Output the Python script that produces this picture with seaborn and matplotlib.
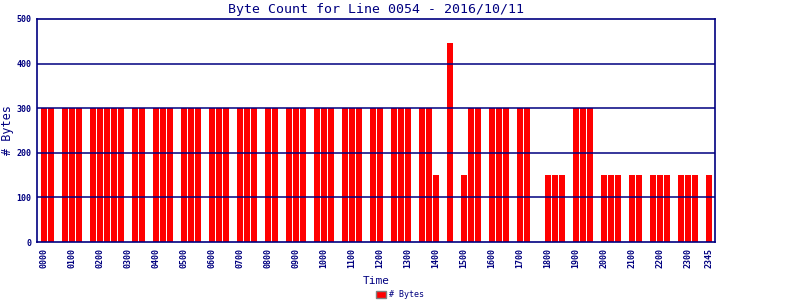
import matplotlib
matplotlib.use("Agg")
import matplotlib.pyplot as plt
import seaborn as sns
import pandas as pd
from matplotlib.patches import Patch

# 15-minute time slots
times = [f"{h:02d}{m:02d}" for h in range(24) for m in (0, 15, 30, 45)]
byte_counts = [
    300, 300, 0, 300,   300, 300, 0, 300,   300, 300, 300, 300,
    0, 300, 300, 0,     300, 300, 300, 0,   300, 300, 300, 0,
    300, 300, 300, 0,   300, 300, 300, 0,   300, 300, 0, 300,
    300, 300, 0, 300,   300, 300, 0, 300,   300, 300, 0, 300,
    300, 0, 300, 300,   300, 0, 300, 300,   150, 0, 445, 0,
    150, 300, 300, 0,   300, 300, 300, 0,   300, 300, 0, 0,
    150, 150, 150, 0,   300, 300, 300, 0,   150, 150, 150, 0,
    150, 150, 0, 150,   150, 150, 0, 150,   150, 150, 0, 150,
]
tick_labels = ["0000", "0100", "0200", "0300", "0400", "0500", "0600", "0700",
               "0800", "0900", "1000", "1100", "1200", "1300", "1400", "1500",
               "1600", "1700", "1800", "1900", "2000", "2100", "2200", "2300",
               "2345"]
y_ticks = [0, 100, 200, 300, 400, 500]

NAVY = "#000080"
df = pd.DataFrame({"Time": times, "Bytes": byte_counts})

sns.set_style("white")
plt.rcParams["font.family"] = ["DejaVu Sans Mono"]

fig = plt.figure(figsize=(8, 3), dpi=100)
ax = fig.add_axes([0.046, 0.193, 0.848, 0.744])

sns.barplot(data=df, x="Time", y="Bytes", color="#FF0000", saturation=1,
            width=0.86, ax=ax, zorder=2, linewidth=0)

for v in y_ticks[1:-1]:
    ax.axhline(v, color=NAVY, lw=1.1, zorder=3)

ax.set_xlim(-1.07, 95.86)
ax.set_ylim(0, 500)
ax.set_yticks(y_ticks)
ax.set_yticklabels([str(v) for v in y_ticks], fontsize=6, color=NAVY,
                   fontweight="bold")
tick_pos = [times.index(t) for t in tick_labels]
ax.set_xticks(tick_pos)
ax.set_xticklabels(tick_labels, rotation=90, fontsize=6, color=NAVY,
                   fontweight="bold")
ax.tick_params(axis="both", length=0, pad=4)

for s in ax.spines.values():
    s.set_color(NAVY)
    s.set_linewidth(1.2)
    s.set_visible(True)

ax.set_title("Byte Count for Line 0054 - 2016/10/11", fontsize=9.5,
             color=NAVY, pad=4)
ax.set_xlabel("Time", fontsize=8, color=NAVY, labelpad=6)
ax.set_ylabel("# Bytes", fontsize=8.5, color=NAVY)
ax.yaxis.set_label_coords(-0.033, 0.5)

handle = Patch(facecolor="#FF0000", edgecolor="#808080", linewidth=1)
fig.legend(handles=[handle], labels=["# Bytes"], loc="center",
           bbox_to_anchor=(0.5, 0.017), frameon=False, fontsize=6,
           handlelength=1.2, handleheight=0.8, handletextpad=0.3,
           labelcolor=NAVY, borderpad=0)

fig.savefig("out.png", dpi=100)
